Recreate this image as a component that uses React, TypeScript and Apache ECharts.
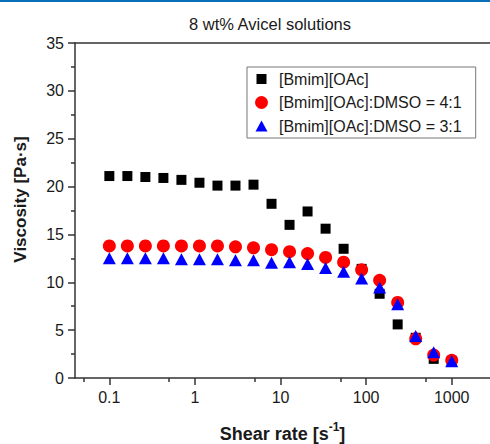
import React, { useEffect, useRef } from "react";
import * as echarts from "echarts";

const shearRate = [0.1, 0.1624, 0.2637, 0.4281, 0.6952, 1.129, 1.833, 2.976, 4.833, 7.848, 12.74, 20.69, 33.6, 54.56, 88.59, 143.8, 233.6, 379.3, 615.8, 1000];
const bmimOAc = [21.1, 21.1, 21.0, 20.9, 20.7, 20.4, 20.1, 20.1, 20.2, 18.2, 16.0, 17.4, 15.6, 13.5, 11.4, 8.8, 5.6, 4.2, 2.0, 1.8];
const dmso41 = [13.8, 13.8, 13.8, 13.8, 13.8, 13.8, 13.8, 13.7, 13.6, 13.4, 13.2, 13.0, 12.6, 12.1, 11.3, 10.2, 7.9, 4.1, 2.4, 1.85];
const dmso31 = [12.5, 12.5, 12.5, 12.5, 12.4, 12.4, 12.4, 12.3, 12.3, 12.05, 12.1, 11.9, 11.5, 11.1, 10.4, 9.45, 7.7, 4.4, 2.7, 1.75];
const seriesNames = ["[Bmim][OAc]", "[Bmim][OAc]:DMSO = 4:1", "[Bmim][OAc]:DMSO = 3:1"];
const xTicks = [0.1, 1, 10, 100, 1000];
const xMinorTicks = [0.05, 0.5, 5, 50, 500];

const FONT = "'Liberation Sans', Arial, sans-serif";
const AXIS = "#333";
const TXT = "#1a1a1a";
const X_MIN = 0.0397;
const X_MAX = 2800;

function pairs(ys: number[]) {
  return ys.map((y, i) => [shearRate[i], y]);
}

export default function App() {
  const ref = useRef<HTMLDivElement>(null);
  useEffect(() => {
    if (!ref.current) return;
    const chart = echarts.init(ref.current, null, { renderer: "svg" });
    chart.setOption({
      animation: false,
      backgroundColor: "#fff",
      textStyle: { fontFamily: FONT },
      graphic: [
        { type: "rect", shape: { x: 0, y: 0, width: 490, height: 2 }, style: { fill: "#0b6fba" } },
      ],
      title: {
        text: "8 wt% Avicel solutions",
        left: 270,
        top: 15,
        padding: 0,
        textAlign: "center",
        textStyle: { fontFamily: FONT, fontSize: 16.5, fontWeight: "normal", color: TXT },
      },
      legend: {
        orient: "vertical",
        left: 247,
        top: 67,
        padding: [4, 14, 4, 8],
        itemWidth: 25,
        itemHeight: 13,
        itemGap: 7.5,
        borderColor: "#777",
        borderWidth: 1,
        borderRadius: 0,
        textStyle: { fontFamily: FONT, fontSize: 16, color: TXT },
        data: [
          { name: seriesNames[0], icon: "path://M0,0M13,13M1.5,1.5h10v10h-10z", itemStyle: { opacity: 1 } },
          { name: seriesNames[1], icon: "path://M0,0M13,13M0,6.5a6.5,6.5 0 1,0 13,0a6.5,6.5 0 1,0 -13,0z", itemStyle: { opacity: 1 } },
          { name: seriesNames[2], icon: "path://M0,0M13,13M6.5,1L12.5,12H0.5Z", itemStyle: { opacity: 1 } },
        ],
      },
      grid: { left: 75, right: 0, top: 43, bottom: 66, outerBoundsMode: "none" },
      xAxis: [
        {
          type: "log",
          logBase: 10,
          min: X_MIN,
          max: X_MAX,
          position: "bottom",
          axisLine: { show: true, lineStyle: { color: AXIS, width: 1.5 } },
          axisTick: { show: true, inside: false, length: 7, customValues: xTicks, lineStyle: { color: AXIS, width: 1.5 } },
          axisLabel: {
            customValues: xTicks,
            fontFamily: FONT,
            fontSize: 16,
            color: TXT,
            margin: 11,
            formatter: (v: number) => String(+Number(v).toPrecision(6)),
          },
          splitLine: { show: false },
          minorTick: { show: false },
          name: "{a|Shear rate [s}{sup|-1}{a|]}",
          nameLocation: "middle",
          nameGap: 43,
          nameTextStyle: {
            rich: {
              a: { fontFamily: FONT, fontSize: 18, fontWeight: "bold", color: TXT, verticalAlign: "bottom" },
              sup: { fontFamily: FONT, fontSize: 12, fontWeight: "bold", color: TXT, verticalAlign: "bottom", padding: [0, 0, 10, 0] },
            },
          },
        },
        {
          type: "log",
          logBase: 10,
          min: X_MIN,
          max: X_MAX,
          position: "bottom",
          axisLine: { show: false },
          axisTick: { show: true, inside: false, length: 4, customValues: xMinorTicks, lineStyle: { color: AXIS, width: 1.5 } },
          axisLabel: { show: false },
          splitLine: { show: false },
        },
        {
          type: "log",
          logBase: 10,
          min: X_MIN,
          max: X_MAX,
          position: "top",
          axisLine: { show: true, lineStyle: { color: AXIS, width: 1.5 } },
          axisTick: { show: false },
          axisLabel: { show: false },
          splitLine: { show: false },
        },
      ],
      yAxis: {
        type: "value",
        min: 0,
        max: 35,
        interval: 5,
        position: "left",
        axisLine: { show: true, lineStyle: { color: AXIS, width: 1.5 } },
        axisTick: { show: true, inside: false, length: 7, lineStyle: { color: AXIS, width: 1.5 } },
        minorTick: { show: true, splitNumber: 2, length: 4, lineStyle: { color: AXIS, width: 1.5 } },
        axisLabel: { fontFamily: FONT, fontSize: 16, color: TXT, margin: 11 },
        splitLine: { show: false },
        name: "Viscosity [Pa·s]",
        nameLocation: "middle",
        nameGap: 46,
        nameTextStyle: { fontFamily: FONT, fontSize: 17, fontWeight: "bold", color: TXT, padding: [0, 0, 0, 22] },
      },
      series: [
        {
          name: seriesNames[0],
          type: "scatter",
          xAxisIndex: 0,
          symbol: "rect",
          symbolSize: 10,
          itemStyle: { color: "#000", opacity: 1 },
          data: pairs(bmimOAc),
        },
        {
          name: seriesNames[1],
          type: "scatter",
          xAxisIndex: 0,
          symbol: "circle",
          symbolSize: 13,
          itemStyle: { color: "#ff0000", opacity: 1 },
          data: pairs(dmso41),
        },
        {
          name: seriesNames[2],
          type: "scatter",
          xAxisIndex: 0,
          symbol: "triangle",
          symbolSize: [13, 12],
          itemStyle: { color: "#0000ff", opacity: 1 },
          data: pairs(dmso31),
        },
      ],
    });
    return () => chart.dispose();
  }, []);
  return (
    <div
      ref={ref}
      style={{ position: "absolute", left: 0, top: 0, width: 490, height: 444, background: "#fff" }}
    />
  );
}
